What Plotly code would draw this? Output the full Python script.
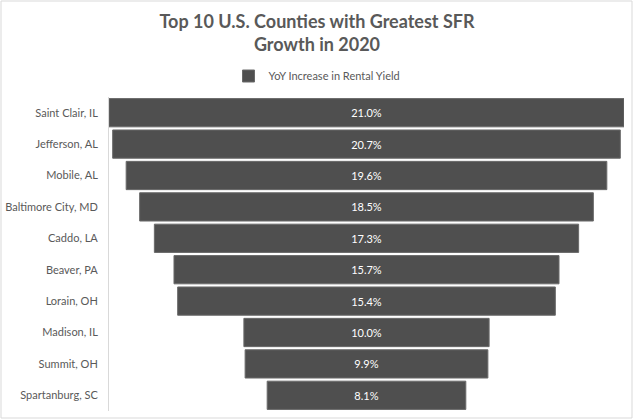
import plotly.graph_objects as go

counties = ["Saint Clair, IL", "Jefferson, AL", "Mobile, AL", "Baltimore City, MD", "Caddo, LA",
            "Beaver, PA", "Lorain, OH", "Madison, IL", "Summit, OH", "Spartanburg, SC"]
yoy_increase = [21.0, 20.7, 19.6, 18.5, 17.3, 15.7, 15.4, 10.0, 9.9, 8.1]
series_name = "YoY Increase in Rental Yield"
title_text = "Top 10 U.S. Counties with Greatest SFR<br>Growth in 2020"

W, H = 634, 420
L, R, T, B = 109, 10, 97, 9
pw, ph = W - L - R, H - T - B

fig = go.Figure()
fig.add_trace(go.Funnel(
    y=counties,
    x=yoy_increase,
    name=series_name,
    text=[f"{v:.1f}%" for v in yoy_increase],
    textinfo="text",
    textposition="inside",
    insidetextanchor="middle",
    textfont=dict(color="white", size=11, family="Lato"),
    marker=dict(color="#4f4f4f", line=dict(color="#6a6a6a", width=1)),
    connector=dict(visible=False),
    showlegend=True,
    hoverinfo="skip",
))

fig.update_layout(
    width=W, height=H,
    margin=dict(l=L, r=R, t=T, b=B, autoexpand=False),
    paper_bgcolor="white", plot_bgcolor="white",
    funnelgap=0.1,
    title=dict(text=title_text, x=0.5, xref="container", xanchor="center",
               y=1 - 28 / H, yref="container", yanchor="middle",
               font=dict(family="Lato", size=18, color="#595959", weight="bold")),
    legend=dict(orientation="h", x=0.5, xref="container", xanchor="center",
                y=1 - 76 / H, yref="container", yanchor="middle",
                font=dict(family="Lato", size=11, color="#595959"),
                itemwidth=30),
    xaxis=dict(visible=False, range=[-10.5, 10.5], fixedrange=True, automargin=False),
    yaxis=dict(showline=True, linecolor="#d9d9d9", linewidth=1, ticks="",
               tickfont=dict(family="Lato", size=11, color="#595959"),
               ticklabelstandoff=8, showgrid=False, automargin=False),
    font=dict(family="Lato"),
)

# outer chart border
fig.add_shape(type="rect", xref="paper", yref="paper",
              x0=(1 - L) / pw, x1=(W - 2 - L) / pw,
              y0=-(B - 2) / ph, y1=1 + (T - 1) / ph,
              line=dict(color="#d9d9d9", width=1), fillcolor="rgba(0,0,0,0)", layer="below")

fig.write_html("out.html", config={"displayModeBar": False},
               post_script="document.body.style.margin='0';document.body.style.overflow='hidden';")
